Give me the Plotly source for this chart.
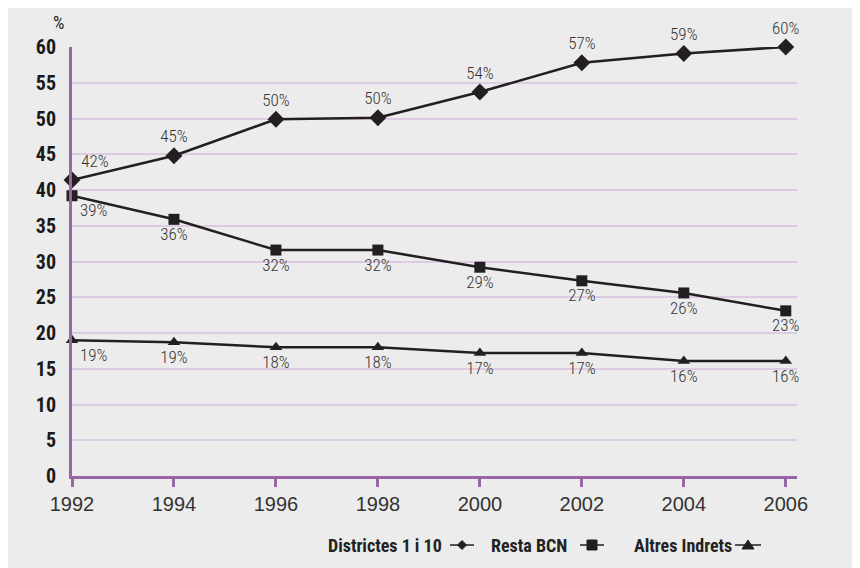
import plotly.graph_objects as go

years = [1992, 1994, 1996, 1998, 2000, 2002, 2004, 2006]
districtes = [41.4, 44.8, 49.9, 50.1, 53.7, 57.8, 59.1, 60.0]
resta = [39.2, 35.9, 31.6, 31.6, 29.2, 27.3, 25.6, 23.1]
altres = [19.0, 18.7, 18.0, 18.0, 17.2, 17.2, 16.1, 16.1]
lab_districtes = ["42%", "45%", "50%", "50%", "54%", "57%", "59%", "60%"]
lab_resta = ["39%", "36%", "32%", "32%", "29%", "27%", "26%", "23%"]
lab_altres = ["19%", "19%", "18%", "18%", "17%", "17%", "16%", "16%"]
legend_names = ["Districtes 1 i 10", "Resta BCN", "Altres Indrets"]
y_ticks = [0, 5, 10, 15, 20, 25, 30, 35, 40, 45, 50, 55, 60]

W, H = 860, 568
OFF = 8  # page body margin
ML, MT = 72 - OFF, 47 - OFF
MR = W - (797 - OFF)
MB = H - (476 - OFF)
PW, PH = W - ML - MR, H - MT - MB

def px(x):  # screen x -> paper
    return (x - OFF - ML) / PW

def py(y):  # screen y -> paper
    return (H - MB - (y - OFF)) / PH

INK = "#231f20"
PURPLE = "#9a64a8"
GRID = "#dccbe3"
NARROW = "Roboto Condensed, Liberation Sans Narrow, Roboto, sans-serif"
LABEL_FONT = dict(family=NARROW, size=17, color="#333333", weight=300)

fig = go.Figure()

def add_series(yvals, labels, symbol, size, positions):
    fig.add_trace(go.Scatter(
        x=years, y=yvals, mode="lines+markers+text",
        line=dict(color=INK, width=2.5),
        marker=dict(symbol=symbol, size=size, color=INK),
        text=labels, textposition=positions, textfont=LABEL_FONT,
        cliponaxis=False, showlegend=False, hoverinfo="skip",
    ))

add_series(districtes, lab_districtes, "diamond", 13,
           ["top right"] + ["top center"] * 7)
add_series(resta, lab_resta, "square", 11,
           ["bottom right"] + ["bottom center"] * 7)
add_series(altres, lab_altres, "triangle-up", 11,
           ["bottom right"] + ["bottom center"] * 7)

shapes = []
annotations = []
annotations.append(dict(text="%", xref="paper", yref="paper",
                        x=px(58), y=py(22), showarrow=False,
                        font=dict(family=NARROW, size=18, color="#222"),
                        xanchor="center", yanchor="middle"))

# custom legend: text then glyph
leg_items = [
    (legend_names[0], 444, 450, 474, "diamond"),
    (legend_names[1], 569, 580, 604, "square"),
    (legend_names[2], 734, 735, 761, "triangle"),
]
LY = 545
for name, tx, l0, l1, sym in leg_items:
    annotations.append(dict(text=name, xref="paper", yref="paper",
                            x=px(tx), y=py(LY), showarrow=False,
                            xanchor="right", yanchor="middle",
                            font=dict(family=NARROW, size=18, color="#222", weight="bold"),
                            ))
    shapes.append(dict(type="line", xref="paper", yref="paper",
                       x0=px(l0), x1=px(l1), y0=py(LY), y1=py(LY),
                       line=dict(color=INK, width=1.5)))
    cx = (l0 + l1) / 2
    if sym == "diamond":
        pts = [(cx, LY - 4.5), (cx + 4.5, LY), (cx, LY + 4.5), (cx - 4.5, LY)]
    elif sym == "square":
        pts = [(cx - 5, LY - 5), (cx + 5, LY - 5), (cx + 5, LY + 5), (cx - 5, LY + 5)]
    else:
        pts = [(cx, LY - 5), (cx + 6, LY + 4), (cx - 6, LY + 4)]
    path = "M " + " L ".join(f"{px(a):.5f},{py(b):.5f}" for a, b in pts) + " Z"
    shapes.append(dict(type="path", xref="paper", yref="paper", path=path,
                       fillcolor=INK, line=dict(color=INK, width=1)))

fig.update_layout(
    width=W, height=H,
    margin=dict(l=ML, r=MR, t=MT, b=MB, pad=0),
    paper_bgcolor="#ececec", plot_bgcolor="#ececec",
    shapes=shapes, annotations=annotations,
    xaxis=dict(range=[1992, 2006.22], tickvals=years,
               showgrid=False, zeroline=False,
               showline=True, linecolor=PURPLE, linewidth=3,
               ticks="outside", ticklen=8, tickwidth=3, tickcolor=PURPLE,
               tickfont=dict(family="Liberation Sans, Arial, sans-serif", size=20, color="#333333"),
               fixedrange=True),
    yaxis=dict(range=[0, 60], tickvals=y_ticks,
               showgrid=True, gridcolor=GRID, gridwidth=1.5,
               zeroline=False, showline=True, linecolor=PURPLE, linewidth=3,
               ticks="", ticklabelstandoff=9,
               tickfont=dict(family=NARROW, size=20, color="#1a1a1a", weight="bold"),
               fixedrange=True),
)

fig.write_html("out.html")
